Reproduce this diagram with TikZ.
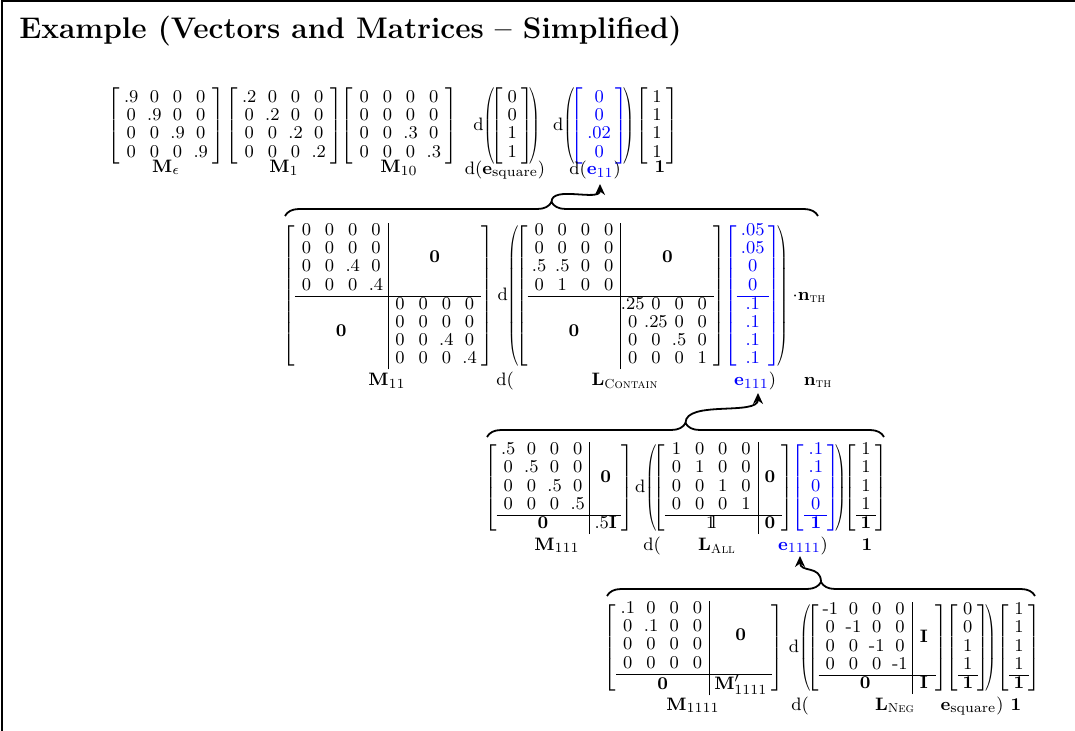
\documentclass[tikz,border=0pt]{standalone}
\usepackage{amsmath}
\usepackage{array}
\usepackage{graphicx}
\usetikzlibrary{decorations.pathreplacing,arrows.meta}
% fixed-width entry columns for the matrices
\newcolumntype{Z}{w{c}{7.2pt}}
\newcommand{\Bzero}{\mathbf{0}}
\newcommand{\Lift}[1]{\smash{\lower4.6pt\hbox{$#1$}}}
\newcommand{\Ione}{\mathrm{1\mkern-4mu l}}
\newcommand{\matfont}{\fontsize{9.3}{11}\selectfont}
% slim tall parentheses around a block
\newcommand{\Tp}[1]{\mathopen{\scalebox{0.7}[1]{$\nulldelimiterspace=0pt\left(\vphantom{#1}\right.$}\mkern-4mu}#1%
  \mathclose{\mkern-4mu\scalebox{0.7}[1]{$\nulldelimiterspace=0pt\left.\vphantom{#1}\right)$}}}
\setlength{\arraycolsep}{2.2pt}
\renewcommand{\arraystretch}{0.83}
\begin{document}
\begin{tikzpicture}[x=0.5pt,y=-0.5pt,
  mat/.style={inner sep=0pt,outer sep=0pt,font=\matfont},
  lbl/.style={inner sep=0pt,anchor=base,font=\matfont},
  brc/.style={decorate,decoration={brace,amplitude=7pt},line width=0.9pt},
  link/.style={-{Stealth[length=5.5pt,width=5pt]},line width=0.9pt},
  frameline/.style={line width=1pt}]
\useasboundingbox (0,0) rectangle (1075,731);
\draw[frameline] (1.5,731) -- (1.5,1.5) -- (1075,1.5);
\node[anchor=base west,inner sep=0pt,font=\fontsize{14.9}{18}\selectfont\bfseries] (title) at (19,39)
  {Example (Vectors and Matrices -- Simplified)};

% ---- first row: diagonal matrices and vectors
\node[mat] (Meps) at (166,126) {$\left[\begin{array}{ZZZZ}
 .9&0&0&0\\ 0&.9&0&0\\ 0&0&.9&0\\ 0&0&0&.9\end{array}\right]$};
\node[mat] (M1) at (284,126) {$\left[\begin{array}{ZZZZ}
 .2&0&0&0\\ 0&.2&0&0\\ 0&0&.2&0\\ 0&0&0&.2\end{array}\right]$};
\node[mat] (M10) at (399,126) {$\left[\begin{array}{ZZZZ}
 0&0&0&0\\ 0&0&0&0\\ 0&0&.3&0\\ 0&0&0&.3\end{array}\right]$};
\node[mat] (dsq) at (507,126) {$\mathrm{d}\Tp{\left[\begin{array}{c}
 0\\0\\1\\1\end{array}\right]}$};
\node[mat] (d11) at (594,126) {$\mathrm{d}\Tp{\textcolor{blue}{\left[\begin{array}{c}
 0\\0\\.02\\0\end{array}\right]}}$};
\node[mat] (one1) at (657,126) {$\left[\begin{array}{c}1\\1\\1\\1\end{array}\right]$};

\node[lbl] (lMeps) at (166,173) {$\mathbf{M}_\epsilon$};
\node[lbl] (lM1) at (284,173) {$\mathbf{M}_1$};
\node[lbl] (lM10) at (399,173) {$\mathbf{M}_{10}$};
\node[lbl] (ldsq) at (505,175) {$\mathrm{d}(\mathbf{e}_{\mathrm{square}})$};
\node[lbl] (ld11) at (595,175) {$\mathrm{d}(\textcolor{blue}{\mathbf{e}_{11}})$};
\node[lbl] (lone1) at (660,173) {$\mathbf{1}$};

% ---- second row
\draw[brc] (285,216) -- (818,216);
\coordinate (cusp2) at (551.5,202);
\node[mat] (M11) at (388,296) {$\left[\begin{array}{ZZZZ|ZZZZ}
 0&0&0&0&&&&\\
 0&0&0&0&\multicolumn{4}{c}{\Lift{\Bzero}}\\
 0&0&.4&0&&&&\\
 0&0&0&.4&&&&\\ \hline
 &&&&0&0&0&0\\
 \multicolumn{4}{c|}{\Lift{\Bzero}}&0&0&0&0\\
 &&&&0&0&.4&0\\
 &&&&0&0&0&.4\end{array}\right]$};
\node[mat] (ex2) at (662,296) {$\mathrm{d}\Tp{\left[\begin{array}{ZZZZ|ZZZZ}
 0&0&0&0&&&&\\
 0&0&0&0&\multicolumn{4}{c}{\Lift{\Bzero}}\\
 .5&.5&0&0&&&&\\
 0&1&0&0&&&&\\ \hline
 &&&&.25&0&0&0\\
 \multicolumn{4}{c|}{\Lift{\Bzero}}&0&.25&0&0\\
 &&&&0&0&.5&0\\
 &&&&0&0&0&1\end{array}\right]\mkern-5mu
 \textcolor{blue}{\left[\begin{array}{c}
 .05\\.05\\0\\0\\ \hline .1\\.1\\.1\\.1\end{array}\right]}}
 \mkern4mu{\cdot}\mathbf{n}_{\text{\textsc{th}}}$};

\node[lbl] (lM11) at (387,386) {$\mathbf{M}_{11}$};
\node[lbl] (ld2) at (505,386) {$\mathrm{d}($};
\node[lbl] (lLc) at (625,386) {$\mathbf{L}_{\text{\textsc{Contain}}}$};
\node[lbl] (le111) at (755,386) {$\textcolor{blue}{\mathbf{e}_{111}})$};
\node[lbl] (lnth) at (818,386) {$\mathbf{n}_{\text{\textsc{th}}}$};
\coordinate (tip1) at (600,184);
\draw[link] (cusp2) .. controls (551.5,185) and (600,202) .. (tip1);

% ---- third row
\draw[brc] (487,437) -- (884,437);
\coordinate (cusp3) at (685.5,423);
\node[mat] (M111) at (559,488) {$\left[\begin{array}{ZZZZ|c}
 .5&0&0&0&\\ 0&.5&0&0&\Lift{\Bzero}\\ 0&0&.5&0&\\ 0&0&0&.5&\\ \hline
 \multicolumn{4}{c|}{\Bzero}&.5\mathbf{I}\end{array}\right]$};
\node[mat] (ex3) at (741,488) {$\mathrm{d}\Tp{\left[\begin{array}{ZZZZ|Z}
 1&0&0&0&\\ 0&1&0&0&\Lift{\Bzero}\\ 0&0&1&0&\\ 0&0&0&1&\\ \hline
 \multicolumn{4}{c|}{\Ione}&\Bzero\end{array}\right]\mkern-5mu
 \textcolor{blue}{\left[\begin{array}{c}
 .1\\.1\\0\\0\\ \hline \mathbf{1}\end{array}\right]}}$};
\node[mat] (one3) at (866,488) {$\left[\begin{array}{c}1\\1\\1\\1\\ \hline \mathbf{1}\end{array}\right]$};

\node[lbl] (lM111) at (557,550) {$\mathbf{M}_{111}$};
\node[lbl] (ld3) at (652,550) {$\mathrm{d}($};
\node[lbl] (lLa) at (717,550) {$\mathbf{L}_{\text{\textsc{All}}}$};
\node[lbl] (le1111) at (803,550) {$\textcolor{blue}{\mathbf{e}_{1111}})$};
\node[lbl] (lone3) at (867,550) {$\mathbf{1}$};
\coordinate (tip2) at (758,393);
\draw[link] (cusp3) .. controls (685.5,400) and (758,416) .. (tip2);

% ---- fourth row
\draw[brc] (607,596) -- (1035,596);
\coordinate (cusp4) at (821,582);
\node[mat] (M1111) at (694,648) {$\left[\begin{array}{ZZZZ|c}
 .1&0&0&0&\\ 0&.1&0&0&\Lift{\Bzero}\\ 0&0&0&0&\\ 0&0&0&0&\\ \hline
 \multicolumn{4}{c|}{\Bzero}&\mathbf{M}'_{1111}\end{array}\right]$};
\node[mat] (ex4) at (893,648) {$\mathrm{d}\Tp{\left[\begin{array}{ZZZZ|Z}
 \mbox{-}1&0&0&0&\\ 0&\mbox{-}1&0&0&\Lift{\mathbf{I}}\\ 0&0&\mbox{-}1&0&\\ 0&0&0&\mbox{-}1&\\ \hline
 \multicolumn{4}{c|}{\Bzero}&\mathbf{I}\end{array}\right]\mkern-5mu
 \left[\begin{array}{c}0\\0\\1\\1\\ \hline \mathbf{1}\end{array}\right]}$};
\node[mat] (one4) at (1019,648) {$\left[\begin{array}{c}1\\1\\1\\1\\ \hline \mathbf{1}\end{array}\right]$};

\node[lbl] (lM1111) at (693,710) {$\mathbf{M}_{1111}$};
\node[lbl] (ld4) at (800,710) {$\mathrm{d}($};
\node[lbl] (lLn) at (895,710) {$\mathbf{L}_{\text{\textsc{Neg}}}$};
\node[lbl] (lesq) at (972,710) {$\mathbf{e}_{\mathrm{square}})$};
\node[lbl] (lone4) at (1016,710) {$\mathbf{1}$};
\coordinate (tip3) at (800,556);
\draw[link] (cusp4) .. controls (821,565) and (800,573) .. (tip3);
\end{tikzpicture}
\end{document}
